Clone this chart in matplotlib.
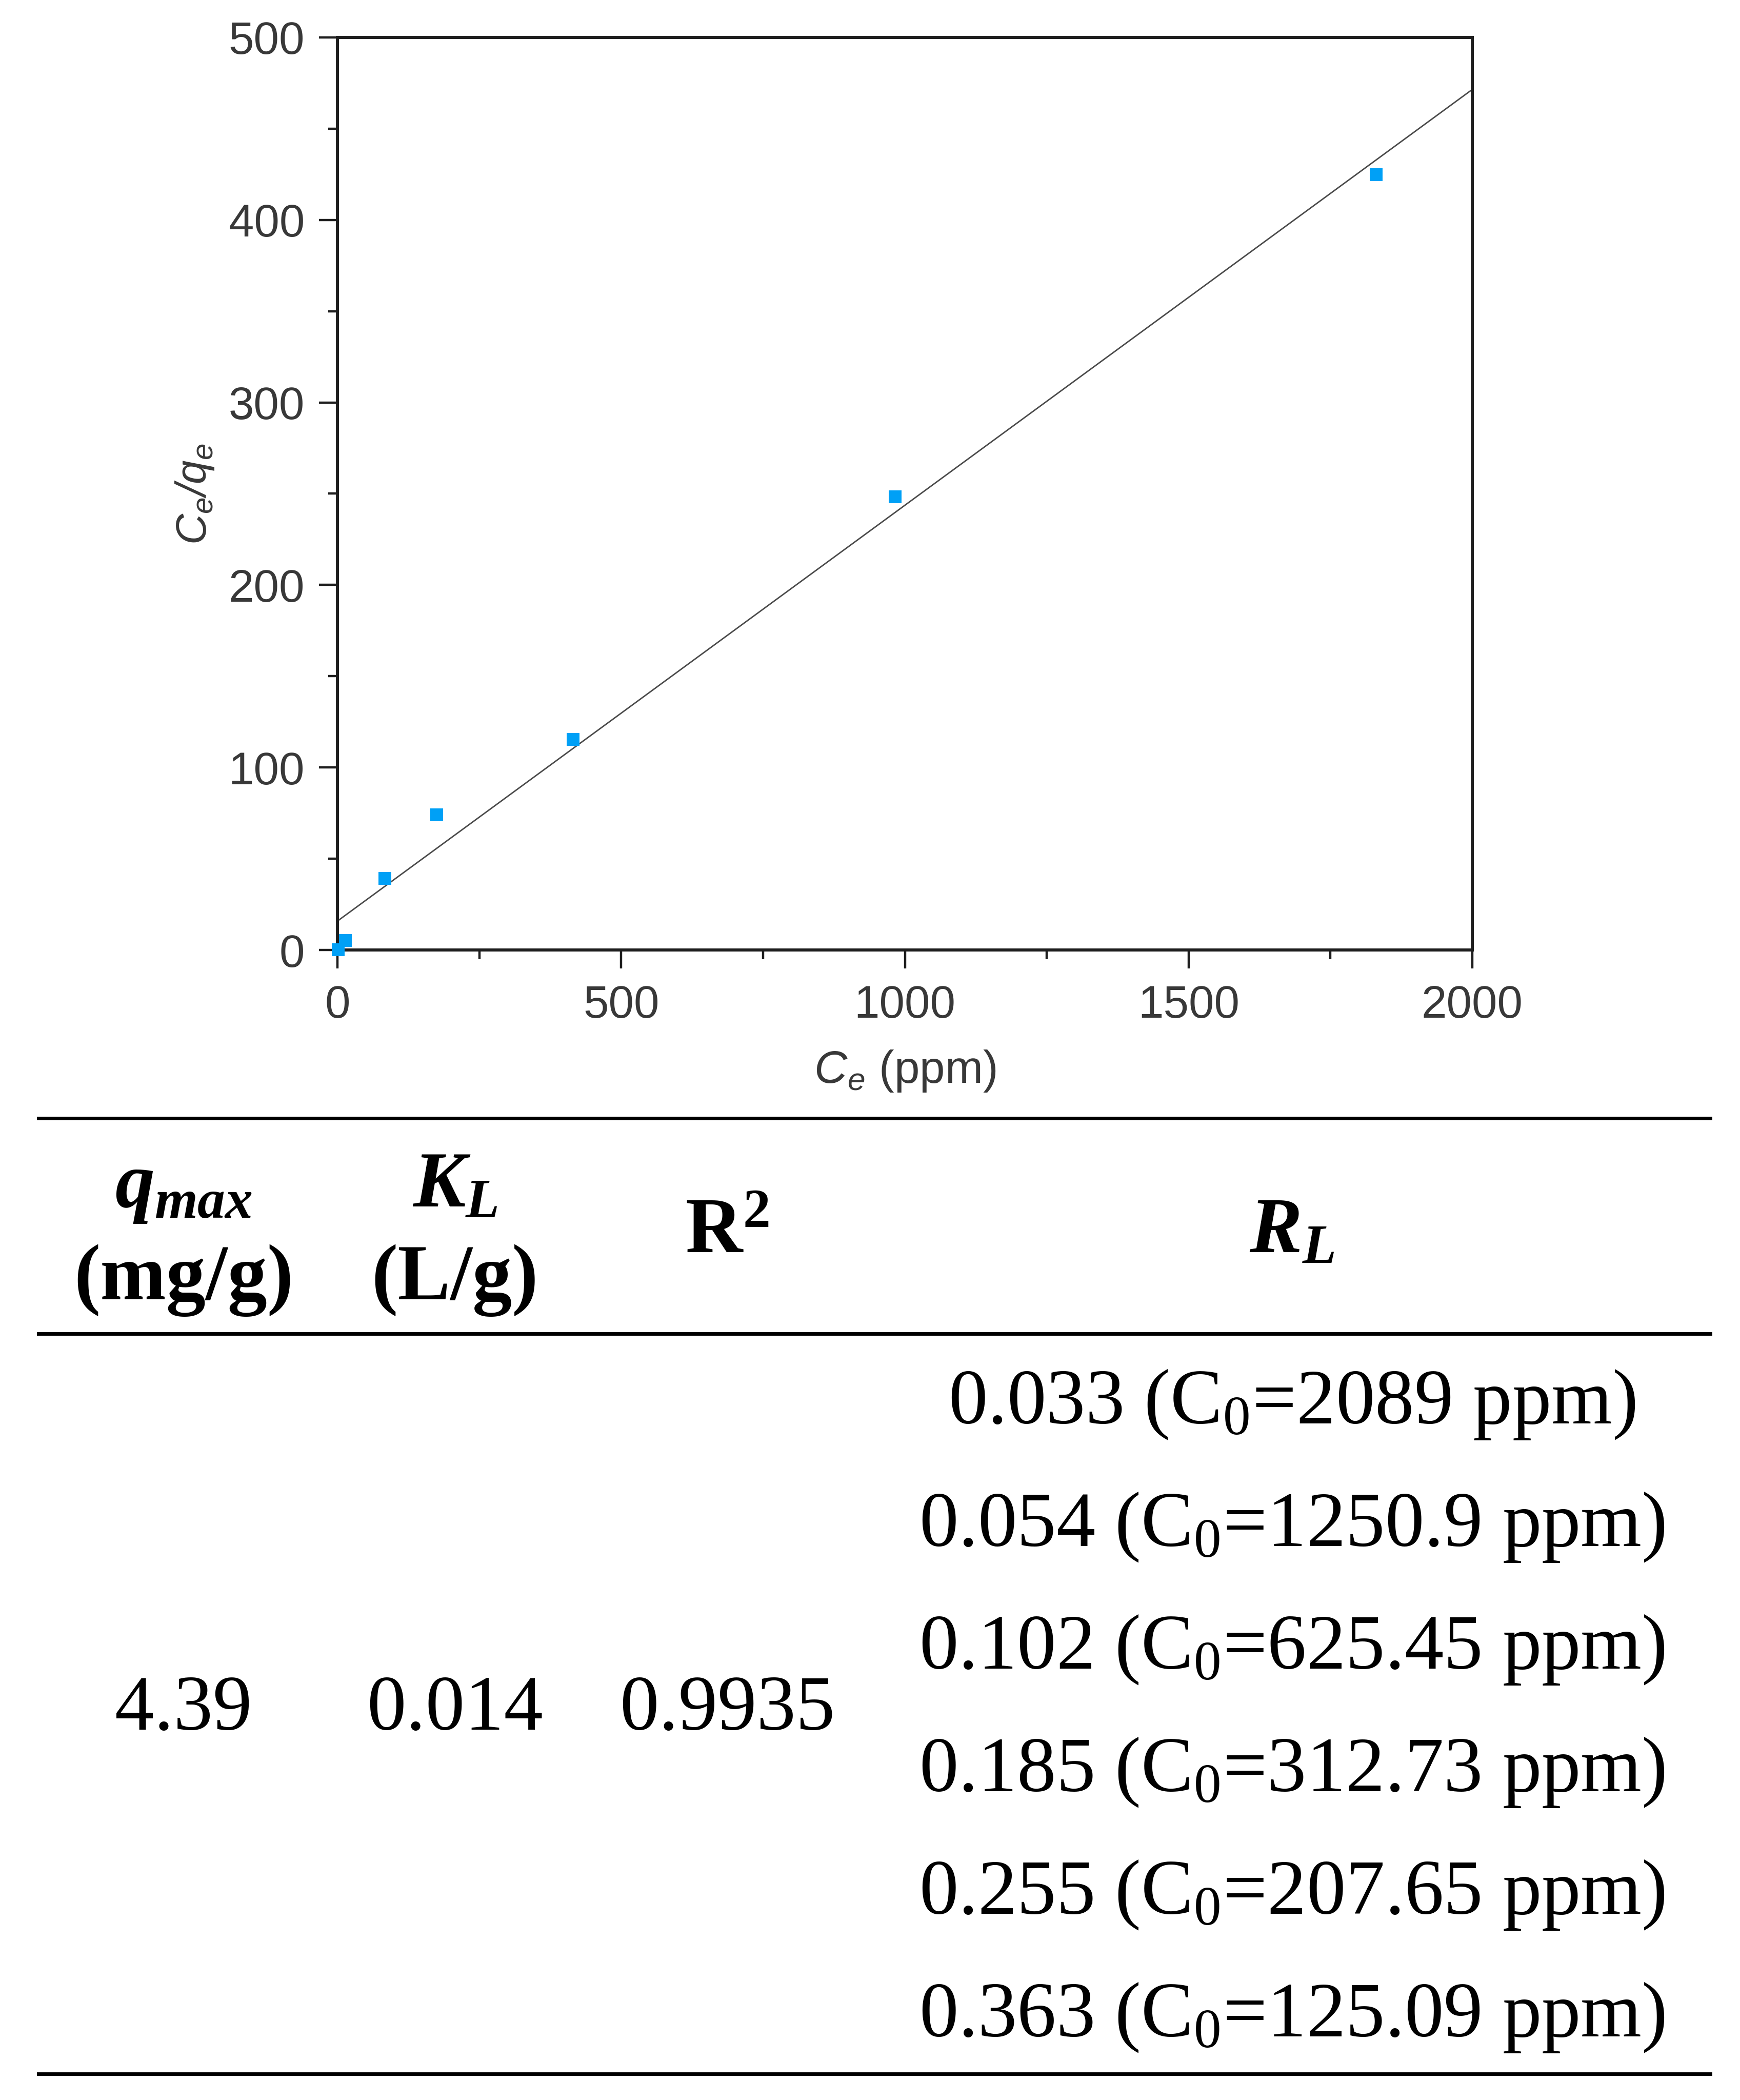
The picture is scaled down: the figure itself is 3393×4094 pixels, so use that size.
import numpy as np
import matplotlib
matplotlib.use("Agg")
import matplotlib.pyplot as plt
from matplotlib.lines import Line2D

# ---------------- data ----------------
ce = [1.0, 13.8, 83.0, 174.5, 415.0, 982.0, 1830.0]          # Ce (ppm)
ce_qe = [0.3, 5.4, 39.3, 74.2, 115.5, 248.4, 425.0]           # Ce/qe
x_ticks = [0, 500, 1000, 1500, 2000]
y_ticks = [0, 100, 200, 300, 400, 500]

q_max = "4.39"
k_l = "0.014"
r_squared = "0.9935"
rl_values = ["0.033", "0.054", "0.102", "0.185", "0.255", "0.363"]
c0_values = ["2089", "1250.9", "625.45", "312.73", "207.65", "125.09"]

# ---------------- style ----------------
W, H = 3393, 4094
DPI = 100
plt.rcParams['font.family'] = ['Liberation Sans', 'DejaVu Sans']
plt.rcParams['mathtext.fontset'] = 'custom'
plt.rcParams['mathtext.rm'] = 'Liberation Serif'
plt.rcParams['mathtext.it'] = 'Liberation Serif:italic:bold'
plt.rcParams['mathtext.bf'] = 'Liberation Serif:bold'
plt.rcParams['mathtext.sf'] = 'Liberation Sans:italic'

TXT = '#383838'
SPINE = '#1e1e1e'

fig = plt.figure(figsize=(W / DPI, H / DPI), dpi=DPI)
fig.patch.set_facecolor('white')


def fx(px):
    return px / W


def fy(py):
    return 1 - py / H


ax = fig.add_axes([fx(658), fy(1852), fx(2871) - fx(658), fy(73) - fy(1852)])

# fit line
coef = np.polyfit(ce, ce_qe, 1)
xfit = np.array([x_ticks[0], x_ticks[-1]])
ax.plot(xfit, np.polyval(coef, xfit), color='#4a4a4a', lw=2.0, zorder=2)

ax.plot(ce, ce_qe, linestyle='none', marker='s', ms=18, color='#00A0F6',
        mec='#00A0F6', mew=0, zorder=5, clip_on=False)

ax.set_xlim(x_ticks[0], x_ticks[-1])
ax.set_ylim(y_ticks[0], y_ticks[-1])
ax.set_xticks(x_ticks)
ax.set_yticks(y_ticks)
ax.set_xticks(np.arange(250, 2000, 500), minor=True)
ax.set_yticks(np.arange(50, 500, 100), minor=True)

for s in ax.spines.values():
    s.set_linewidth(4.3)
    s.set_color(SPINE)

ax.tick_params(which='major', direction='out', length=26, width=3.2,
               color=SPINE, labelsize=64, labelcolor=TXT, pad=20)
ax.tick_params(which='minor', direction='out', length=13, width=3.2,
               color=SPINE)
ax.tick_params(axis='x', which='major', pad=22)
ax.tick_params(top=False, right=False, which='both')

ax.set_xlabel(r'$\mathsf{C_e}$ (ppm)', fontsize=64, color=TXT, labelpad=30)
ax.set_ylabel(r'$\mathsf{C_e/q_e}$', fontsize=60, color=TXT, labelpad=18)

# ---------------- table ----------------
SERIF = ['Liberation Serif', 'DejaVu Serif']
HS = 111
BS = 110

for yy in (2180, 2600, 4043):
    fig.add_artist(Line2D([fx(75), fx(3335)], [fy(yy), fy(yy)],
                          color='black', lw=5.0, transform=fig.transFigure))

col_x = [358, 887, 1418, 2519]

fig.text(fx(col_x[0]), fy(2353), r'$q_{max}$', fontsize=HS, ha='center',
         va='baseline', family=SERIF, fontweight='bold')
fig.text(fx(col_x[0]), fy(2533), '(mg/g)', fontsize=HS, ha='center',
         va='baseline', family=SERIF, fontweight='bold')
fig.text(fx(col_x[1]), fy(2353), r'$K_L$', fontsize=HS, ha='center',
         va='baseline', family=SERIF, fontweight='bold')
fig.text(fx(col_x[1]), fy(2533), '(L/g)', fontsize=HS, ha='center',
         va='baseline', family=SERIF, fontweight='bold')
fig.text(fx(col_x[2]), fy(2442), r'R$^{\mathbf{2}}$', fontsize=HS,
         ha='center', va='baseline', family=SERIF, fontweight='bold')
fig.text(fx(col_x[3]), fy(2442), r'$R_L$', fontsize=HS, ha='center',
         va='baseline', family=SERIF, fontweight='bold')

row_base = [2775, 3014, 3253, 3492, 3731, 3970]
mid = (row_base[2] + row_base[3]) / 2
for cx, val in zip(col_x[:3], [q_max, k_l, r_squared]):
    fig.text(fx(cx), fy(mid), val, fontsize=BS, ha='center', va='baseline',
             family=SERIF)

for yb, rl, c0 in zip(row_base, rl_values, c0_values):
    fig.text(fx(col_x[3]), fy(yb), rl + ' (C$_0$=' + c0 + ' ppm)',
             fontsize=BS, ha='center', va='baseline', family=SERIF)

fig.savefig('out.png', dpi=DPI, facecolor='white')
